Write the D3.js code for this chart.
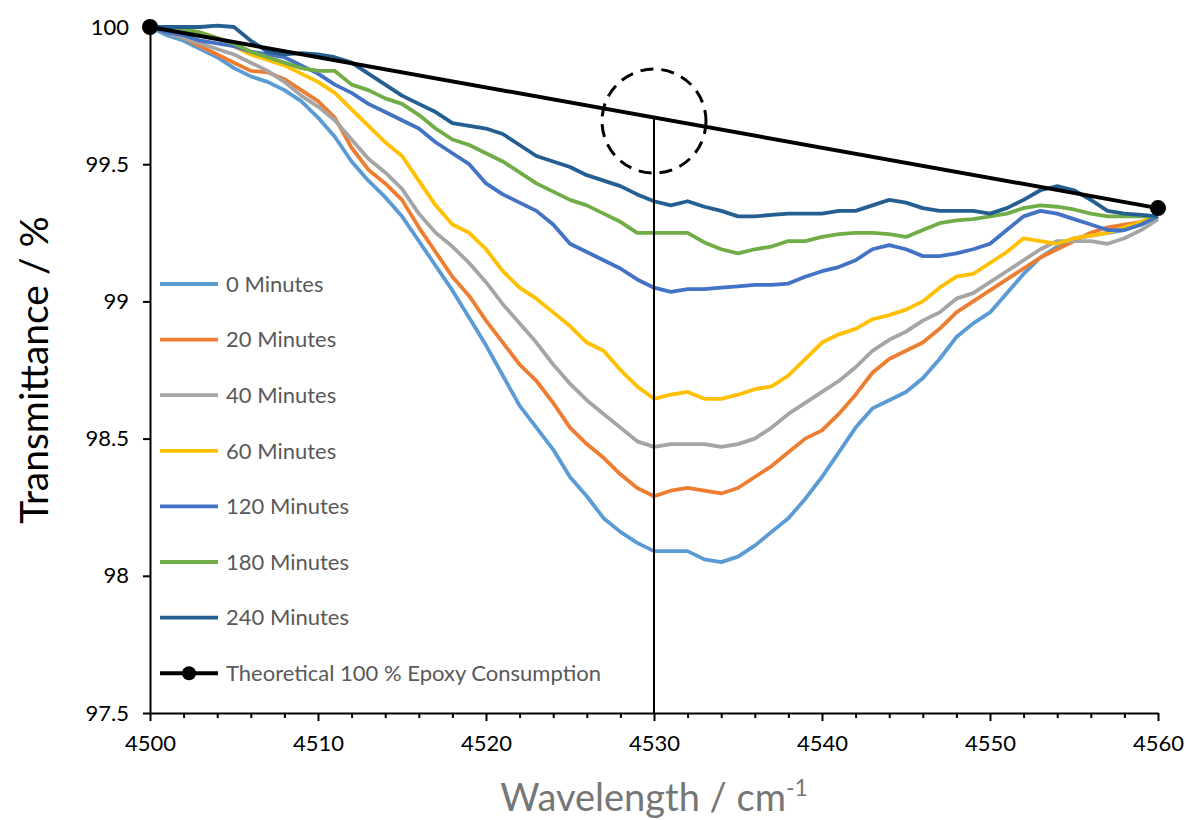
<!DOCTYPE html>
<html>
<head>
<meta charset="utf-8">
<script src="https://cdn.jsdelivr.net/npm/d3@7"></script>
<style>
  body { margin: 0; background: #fff; }
  text { font-family: Lato, "Open Sans", sans-serif; }
</style>
</head>
<body>
<svg id="chart" width="1189" height="820"></svg>
<script>
// wavelength grid, 1 cm-1 steps
var wavelengths = d3.range(4500, 4561);

// transmittance readings per cure time
var min0 = [100.00,99.97,99.95,99.92,99.89,99.85,99.82,99.80,99.77,99.73,99.67,99.60,99.51,99.44,99.38,99.31,99.22,99.13,99.04,98.94,
  98.84,98.73,98.62,98.54,98.46,98.36,98.29,98.21,98.16,98.12,98.09,98.09,98.09,98.06,98.05,98.07,98.11,98.16,98.21,98.28,
  98.36,98.45,98.54,98.61,98.64,98.67,98.72,98.79,98.87,98.92,98.96,99.03,99.10,99.16,99.20,99.23,99.24,99.25,99.26,99.28,99.31];
var min20 = [100.00,99.98,99.96,99.93,99.90,99.87,99.84,99.835,99.81,99.77,99.73,99.67,99.56,99.48,99.43,99.37,99.27,99.18,99.09,99.02,
  98.93,98.85,98.77,98.71,98.63,98.54,98.48,98.43,98.37,98.32,98.29,98.31,98.32,98.31,98.30,98.32,98.36,98.40,98.45,98.50,
  98.53,98.59,98.66,98.74,98.79,98.82,98.85,98.90,98.96,99.00,99.04,99.08,99.12,99.16,99.19,99.22,99.25,99.27,99.28,99.29,99.31];
var min40 = [100.00,99.98,99.96,99.94,99.92,99.90,99.87,99.84,99.80,99.75,99.71,99.66,99.59,99.52,99.47,99.41,99.32,99.25,99.20,99.14,
  99.07,98.99,98.92,98.85,98.77,98.70,98.64,98.59,98.54,98.49,98.47,98.48,98.48,98.48,98.47,98.48,98.50,98.54,98.59,98.63,
  98.67,98.71,98.76,98.82,98.86,98.89,98.93,98.96,99.01,99.03,99.07,99.11,99.15,99.19,99.22,99.22,99.22,99.21,99.23,99.26,99.30];
var min60 = [100.00,99.99,99.99,99.98,99.96,99.93,99.90,99.88,99.86,99.83,99.80,99.76,99.70,99.64,99.58,99.53,99.44,99.35,99.28,99.25,
  99.19,99.11,99.05,99.01,98.96,98.91,98.85,98.82,98.75,98.69,98.645,98.66,98.67,98.645,98.645,98.66,98.68,98.69,98.73,98.79,
  98.85,98.88,98.90,98.935,98.95,98.97,99.00,99.05,99.09,99.10,99.14,99.18,99.23,99.22,99.21,99.23,99.24,99.25,99.27,99.29,99.31];
var min120 = [100.00,99.98,99.97,99.95,99.94,99.93,99.91,99.90,99.89,99.86,99.83,99.79,99.76,99.72,99.69,99.66,99.63,99.58,99.54,99.50,
  99.43,99.39,99.36,99.33,99.28,99.21,99.18,99.15,99.12,99.08,99.05,99.035,99.045,99.045,99.05,99.055,99.06,99.06,99.065,99.09,
  99.11,99.125,99.15,99.19,99.205,99.19,99.165,99.165,99.175,99.19,99.21,99.26,99.31,99.33,99.32,99.30,99.28,99.26,99.26,99.28,99.31];
var min180 = [100.00,99.99,99.99,99.98,99.96,99.94,99.91,99.89,99.87,99.85,99.84,99.84,99.79,99.77,99.74,99.72,99.68,99.63,99.59,99.57,
  99.54,99.51,99.47,99.43,99.40,99.37,99.35,99.32,99.29,99.25,99.25,99.25,99.25,99.215,99.19,99.175,99.19,99.20,99.22,99.22,
  99.235,99.245,99.25,99.25,99.245,99.235,99.26,99.285,99.295,99.30,99.31,99.32,99.34,99.35,99.345,99.335,99.32,99.31,99.31,99.31,99.31];
var min240 = [100.00,100.00,100.00,100.00,100.005,100.00,99.95,99.91,99.90,99.905,99.90,99.89,99.87,99.83,99.79,99.75,99.72,99.69,99.65,99.64,
  99.63,99.61,99.57,99.53,99.51,99.49,99.46,99.44,99.42,99.39,99.365,99.35,99.365,99.345,99.33,99.31,99.31,99.315,99.32,99.32,
  99.32,99.33,99.33,99.35,99.37,99.36,99.34,99.33,99.33,99.33,99.32,99.34,99.37,99.405,99.42,99.405,99.37,99.33,99.32,99.315,99.31];

var seriesNames = ["0 Minutes", "20 Minutes", "40 Minutes", "60 Minutes", "120 Minutes", "180 Minutes", "240 Minutes"];
var seriesValues = [min0, min20, min40, min60, min120, min180, min240];
var seriesColors = ["#5B9BD5", "#ED7D31", "#A5A5A5", "#FFC000", "#4472C4", "#70AD47", "#255E91"];

// theoretical full consumption baseline
var theoryX = [4500, 4560];
var theoryY = [100, 99.34];
var theoryName = "Theoretical 100 % Epoxy Consumption";

// highlighted peak position
var peakX = 4530;
var circleY = 99.657;

var xTicks = [4500, 4510, 4520, 4530, 4540, 4550, 4560];
var yTicks = [97.5, 98, 98.5, 99, 99.5, 100];

var svg = d3.select("#chart");
var plotLeft = 150, plotRight = 1158, plotTop = 27, plotBottom = 713;

var x = d3.scaleLinear().domain([4500, 4560]).range([plotLeft, plotRight]);
var y = d3.scaleLinear().domain([97.5, 100]).range([plotBottom, plotTop]);

var line = d3.line()
    .x(function(d, i) { return x(wavelengths[i]); })
    .y(function(d) { return y(d); });

//series lines
seriesValues.forEach(function(vals, k) {
    svg.append("path")
        .datum(vals)
        .attr("d", line)
        .attr("fill", "none")
        .attr("stroke", seriesColors[k])
        .attr("stroke-width", 3.8)
        .attr("stroke-linejoin", "round");
});

//axes
var yAxis = svg.append("g")
    .attr("transform", "translate(" + plotLeft + ",0)")
    .call(d3.axisLeft(y).tickValues(yTicks).tickSize(7).tickSizeOuter(0).tickPadding(14)
        .tickFormat(function(d) { return d; }));
yAxis.select(".domain").attr("stroke", "#000").attr("stroke-width", 2);
yAxis.selectAll(".tick line").attr("stroke-width", 2);
yAxis.selectAll("text").style("font-size", "22px").attr("fill", "#000")
    .style("font-family", "Lato, sans-serif");

var xMinor = svg.append("g")
    .attr("transform", "translate(0," + plotBottom + ")")
    .call(d3.axisBottom(x).tickValues(d3.range(4502, 4560, 2).filter(function(v) { return v % 10 != 0; }))
        .tickSize(5).tickFormat(""));
xMinor.select(".domain").remove();
xMinor.selectAll(".tick line").attr("stroke-width", 2);

var xAxis = svg.append("g")
    .attr("transform", "translate(0," + plotBottom + ")")
    .call(d3.axisBottom(x).tickValues(xTicks).tickSize(8).tickSizeOuter(0).tickPadding(14)
        .tickFormat(d3.format("d")));
xAxis.select(".domain").attr("stroke", "#000").attr("stroke-width", 2);
xAxis.selectAll(".tick line").attr("stroke-width", 2);
xAxis.selectAll("text").style("font-size", "22px").attr("fill", "#000")
    .style("font-family", "Lato, sans-serif");

//vertical marker at peak
var peakTheory = theoryY[0] + (theoryY[1] - theoryY[0]) * (peakX - theoryX[0]) / (theoryX[1] - theoryX[0]);
svg.append("line")
    .attr("x1", x(peakX)).attr("x2", x(peakX))
    .attr("y1", y(peakTheory)).attr("y2", y(97.5))
    .attr("stroke", "#000").attr("stroke-width", 2);

//theoretical line with end markers
svg.append("path")
    .datum(theoryY)
    .attr("d", d3.line().x(function(d, i) { return x(theoryX[i]); }).y(function(d) { return y(d); }))
    .attr("fill", "none").attr("stroke", "#000").attr("stroke-width", 4);
svg.selectAll(".theory-dot")
    .data(theoryY)
    .enter().append("circle")
    .attr("class", "theory-dot")
    .attr("cx", function(d, i) { return x(theoryX[i]); })
    .attr("cy", function(d) { return y(d); })
    .attr("r", 8)
    .attr("fill", "#000");

//dashed circle
svg.append("circle")
    .attr("cx", x(peakX)).attr("cy", y(circleY))
    .attr("r", 52)
    .attr("fill", "none").attr("stroke", "#000")
    .attr("stroke-width", 3).attr("stroke-dasharray", "13,8");

//legend
var legend = svg.append("g");
var legendNames = seriesNames.concat([theoryName]);
var legendColors = seriesColors.concat(["#000"]);
legendNames.forEach(function(name, i) {
    var ly = 284 + i * 55.6;
    legend.append("line")
        .attr("x1", 160).attr("x2", 218).attr("y1", ly).attr("y2", ly)
        .attr("stroke", legendColors[i]).attr("stroke-width", i == 7 ? 4 : 3.8);
    if (i == 7) {
        legend.append("circle").attr("cx", 189).attr("cy", ly).attr("r", 7).attr("fill", "#000");
    }
    legend.append("text")
        .attr("x", 226).attr("y", ly).attr("dy", "0.35em")
        .style("font-size", "22px").attr("fill", "#595959")
        .text(name);
});

//axis titles
svg.append("text")
    .attr("transform", "translate(48,370) rotate(-90)")
    .attr("text-anchor", "middle")
    .style("font-size", "39px").attr("fill", "#000")
    .text("Transmittance / %");

var xt = svg.append("text")
    .attr("x", 654).attr("y", 811)
    .attr("text-anchor", "middle")
    .style("font-size", "38px").attr("fill", "#767676");
xt.append("tspan").text("Wavelength / cm");
xt.append("tspan").attr("dy", -15).style("font-size", "23px").text("-1");
</script>
</body>
</html>
